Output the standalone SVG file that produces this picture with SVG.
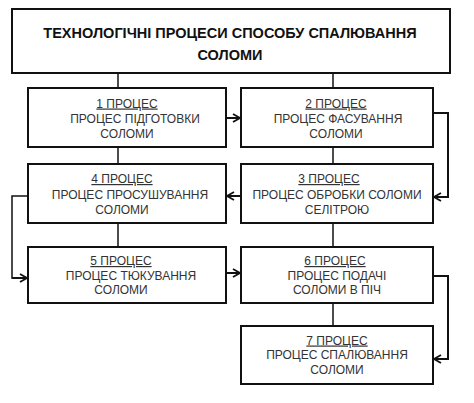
<svg xmlns="http://www.w3.org/2000/svg" width="474" height="403" viewBox="0 0 474 403">
<defs>
<marker id="ah" markerWidth="10" markerHeight="10" refX="8" refY="5" orient="auto" markerUnits="userSpaceOnUse">
<path d="M1,1 L8,5 L1,9" fill="none" stroke="#111" stroke-width="1.8"/>
</marker>
<style>
.box{fill:#fff;stroke:#111;stroke-width:2}
.t{font-family:"Liberation Sans",Arial,sans-serif;font-size:12px;fill:#333;text-anchor:middle}
.h{font-family:"Liberation Sans",Arial,sans-serif;font-size:14.5px;font-weight:bold;fill:#111;text-anchor:middle}
.u{text-decoration:underline}
.c{fill:none;stroke:#111;stroke-width:1.5}
.ca{fill:none;stroke:#111;stroke-width:2;marker-end:url(#ah)}
</style>
</defs>
<rect width="474" height="403" fill="#fff"/>
<g id="connectors">
<line class="c" x1="118" y1="73" x2="118" y2="88"/>
<line class="c" x1="333" y1="73" x2="333" y2="88"/>
<line class="ca" x1="226" y1="118" x2="240" y2="118"/>
<polyline class="ca" points="433,113 448,113 448,197 434,197"/>
<line class="c" x1="118" y1="147" x2="118" y2="164"/>
<line class="c" x1="333" y1="147" x2="333" y2="164"/>
<line class="ca" x1="241" y1="196" x2="227" y2="196"/>
<polyline class="c" points="28,196 12,196 12,278 20,278"/>
<line class="ca" x1="12" y1="278" x2="27" y2="278"/>
<line class="c" x1="118" y1="223" x2="118" y2="247"/>
<line class="c" x1="333" y1="223" x2="333" y2="247"/>
<line class="ca" x1="226" y1="273" x2="240" y2="273"/>
<polyline class="ca" points="433,276 448,276 448,359 434,359"/>
<line class="c" x1="333" y1="303" x2="333" y2="326"/>
</g>
<g id="title">
<rect class="box" x="12" y="9" width="438" height="64"/>
<text class="h" x="230" y="38">ТЕХНОЛОГІЧНІ ПРОЦЕСИ СПОСОБУ СПАЛЮВАННЯ</text>
<text class="h" x="230" y="60">СОЛОМИ</text>
</g>
<g id="p1">
<rect class="box" x="28" y="88" width="198" height="59"/>
<text class="t u" x="127" y="107.5">1 ПРОЦЕС</text>
<text class="t" x="135" y="122.5">ПРОЦЕС ПІДГОТОВКИ</text>
<text class="t" x="127" y="138">СОЛОМИ</text>
</g>
<g id="p2">
<rect class="box" x="241" y="88" width="192" height="59"/>
<text class="t u" x="336" y="107.5">2 ПРОЦЕС</text>
<text class="t" x="338" y="122.5">ПРОЦЕС ФАСУВАННЯ</text>
<text class="t" x="336" y="138">СОЛОМИ</text>
</g>
<g id="p4">
<rect class="box" x="28" y="164" width="198" height="59"/>
<text class="t u" x="122" y="183">4 ПРОЦЕС</text>
<text class="t" x="130" y="199">ПРОЦЕС ПРОСУШУВАННЯ</text>
<text class="t" x="122" y="214">СОЛОМИ</text>
</g>
<g id="p3">
<rect class="box" x="241" y="164" width="192" height="59"/>
<text class="t u" x="329" y="183">3 ПРОЦЕС</text>
<text class="t" x="337" y="199">ПРОЦЕС ОБРОБКИ СОЛОМИ</text>
<text class="t" x="337" y="214">СЕЛІТРОЮ</text>
</g>
<g id="p5">
<rect class="box" x="28" y="247" width="198" height="56"/>
<text class="t u" x="121" y="265">5 ПРОЦЕС</text>
<text class="t" x="131" y="279.5">ПРОЦЕС ТЮКУВАННЯ</text>
<text class="t" x="121" y="294">СОЛОМИ</text>
</g>
<g id="p6">
<rect class="box" x="241" y="247" width="192" height="56"/>
<text class="t u" x="335" y="265">6 ПРОЦЕС</text>
<text class="t" x="337" y="279.5">ПРОЦЕС ПОДАЧІ</text>
<text class="t" x="337" y="294">СОЛОМИ В ПІЧ</text>
</g>
<g id="p7">
<rect class="box" x="241" y="326" width="192" height="58"/>
<text class="t u" x="337" y="344.5">7 ПРОЦЕС</text>
<text class="t" x="337" y="358.5">ПРОЦЕС СПАЛЮВАННЯ</text>
<text class="t" x="337" y="373.5">СОЛОМИ</text>
</g>
</svg>
